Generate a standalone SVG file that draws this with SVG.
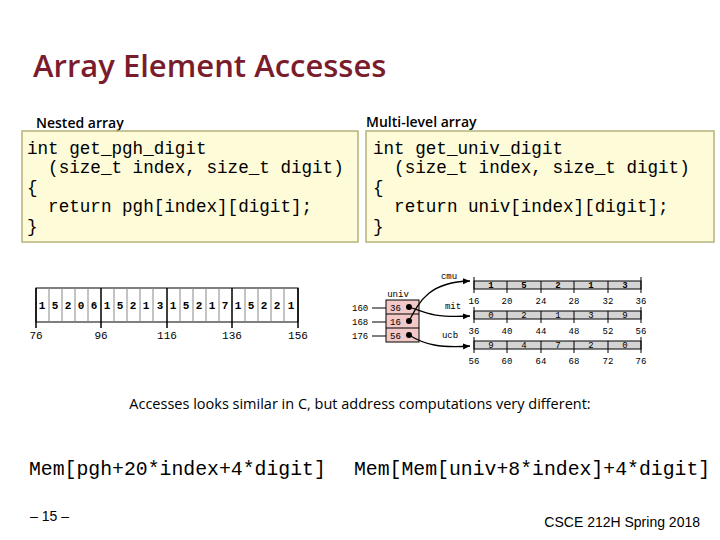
<svg xmlns="http://www.w3.org/2000/svg" width="720" height="540" viewBox="0 0 720 540">
<style>
.t{font-family:"Open Sans","Liberation Sans",sans-serif;fill:#000}
.m{font-family:"Liberation Mono",monospace;fill:#000}
.box{fill:#fdfbd8;stroke:#b5b37a;stroke-width:1.5}
.g{fill:#d4d4d4;stroke:#000;stroke-width:1}
.s{font-family:"Liberation Mono",monospace;font-size:9px;fill:#000;text-anchor:middle}
.b{font-family:"Liberation Mono",monospace;font-size:9px;font-weight:bold;fill:#000;text-anchor:middle}
</style>
<defs><marker id="a" markerWidth="8" markerHeight="8" refX="7" refY="4" orient="auto" markerUnits="userSpaceOnUse"><path d="M0,1 L7,4 L0,7z" fill="#000"/></marker></defs>
<rect width="720" height="540" fill="#fff"/>
<text x="33" y="77" class="t" font-size="31" font-weight="600" style="fill:#7a1c2c">Array Element Accesses</text>
<text x="36" y="128" class="t" font-size="14" font-weight="600">Nested array</text>
<text x="366" y="127" class="t" font-size="14" font-weight="600">Multi-level array</text>
<g id="code1"><rect x="22" y="131" width="336" height="111" class="box"/>
<text class="m" font-size="17.6" xml:space="preserve"><tspan x="27" y="154">int get_pgh_digit</tspan><tspan x="27" y="173">  (size_t index, size_t digit)</tspan><tspan x="27" y="193">{</tspan><tspan x="27" y="212">  return pgh[index][digit];</tspan><tspan x="27" y="232">}</tspan></text></g>
<g id="code2"><rect x="366" y="131" width="348" height="111" class="box"/>
<text class="m" font-size="17.6" xml:space="preserve"><tspan x="373" y="154">int get_univ_digit</tspan><tspan x="373" y="173">  (size_t index, size_t digit)</tspan><tspan x="373" y="193">{</tspan><tspan x="373" y="212">  return univ[index][digit];</tspan><tspan x="373" y="232">}</tspan></text></g>
<g id="pgh">
<rect x="36" y="288" width="262" height="34" fill="#fff" stroke="#000"/>
<g stroke="#888"><path d="M49,288v34M62,288v34M75,288v34M88,288v34M114,288v34M127,288v34M140,288v34M153,288v34M180,288v34M193,288v34M206,288v34M219,288v34M245,288v34M258,288v34M271,288v34M284,288v34"/></g>
<g stroke="#000" stroke-width="1.5"><path d="M36,288v40M101,288v40M167,288v40M232,288v40M298,288v40"/></g>
<g class="s" style="font-size:11px;font-weight:bold">
<text x="42" y="309">1</text><text x="55" y="309">5</text><text x="68" y="309">2</text><text x="81" y="309">0</text><text x="94" y="309">6</text>
<text x="107" y="309">1</text><text x="120" y="309">5</text><text x="133" y="309">2</text><text x="146" y="309">1</text><text x="160" y="309">3</text>
<text x="173" y="309">1</text><text x="186" y="309">5</text><text x="199" y="309">2</text><text x="212" y="309">1</text><text x="225" y="309">7</text>
<text x="238" y="309">1</text><text x="251" y="309">5</text><text x="264" y="309">2</text><text x="277" y="309">2</text><text x="291" y="309">1</text>
</g>
<g class="s" style="font-size:11px"><text x="36" y="339">76</text><text x="101" y="339">96</text><text x="167" y="339">116</text><text x="232" y="339">136</text><text x="298" y="339">156</text></g>
</g>
<g id="univ">
<text x="398" y="297" class="s">univ</text>
<rect x="386" y="300" width="33" height="42" fill="#f2c8c8" stroke="#000"/>
<path d="M386,314h33M386,328h33" stroke="#000"/>
<text x="390" y="311" class="m" font-size="9">36</text><text x="390" y="325" class="m" font-size="9">16</text><text x="390" y="339" class="m" font-size="9">56</text>
<circle cx="409" cy="307" r="3" fill="#000"/><circle cx="409" cy="321" r="3" fill="#000"/><circle cx="409" cy="335" r="3" fill="#000"/>
<text x="352" y="311" class="m" font-size="9">160</text><text x="352" y="325" class="m" font-size="9">168</text><text x="352" y="339" class="m" font-size="9">176</text>
<path d="M372,308h14M372,322h14M372,336h14" stroke="#000"/>
</g>
<g id="cmu"><text x="449" y="279" class="s">cmu</text>
<rect x="474" y="281" width="167" height="8" class="g"/>
<path d="M507,281v8M541,281v8M574,281v8M608,281v8" stroke="#000"/>
<path d="M474,277v16M507,289v4M541,289v4M574,289v4M608,289v4M641,277v16" stroke="#000"/>
<text x="491" y="288" class="b">1</text><text x="524" y="288" class="b">5</text><text x="558" y="288" class="b">2</text><text x="591" y="288" class="b">1</text><text x="625" y="288" class="b">3</text>
<text x="474" y="304" class="s">16</text><text x="507" y="304" class="s">20</text><text x="541" y="304" class="s">24</text><text x="574" y="304" class="s">28</text><text x="608" y="304" class="s">32</text><text x="641" y="304" class="s">36</text></g>
<g id="mit"><text x="453" y="309" class="s">mit</text>
<rect x="474" y="311" width="167" height="8" class="g"/>
<path d="M507,311v8M541,311v8M574,311v8M608,311v8" stroke="#000"/>
<path d="M474,307v16M507,319v4M541,319v4M574,319v4M608,319v4M641,307v16" stroke="#000"/>
<text x="491" y="318" class="s">0</text><text x="524" y="318" class="s">2</text><text x="558" y="318" class="s">1</text><text x="591" y="318" class="s">3</text><text x="625" y="318" class="s">9</text>
<text x="474" y="334" class="s">36</text><text x="507" y="334" class="s">40</text><text x="541" y="334" class="s">44</text><text x="574" y="334" class="s">48</text><text x="608" y="334" class="s">52</text><text x="641" y="334" class="s">56</text></g>
<g id="ucb"><text x="450" y="338" class="s">ucb</text>
<rect x="474" y="341" width="167" height="8" class="g"/>
<path d="M507,341v8M541,341v8M574,341v8M608,341v8" stroke="#000"/>
<path d="M474,337v16M507,349v4M541,349v4M574,349v4M608,349v4M641,337v16" stroke="#000"/>
<text x="491" y="348" class="s">9</text><text x="524" y="348" class="s">4</text><text x="558" y="348" class="s">7</text><text x="591" y="348" class="s">2</text><text x="625" y="348" class="s">0</text>
<text x="474" y="364" class="s">56</text><text x="507" y="364" class="s">60</text><text x="541" y="364" class="s">64</text><text x="574" y="364" class="s">68</text><text x="608" y="364" class="s">72</text><text x="641" y="364" class="s">76</text></g>
<g id="connectors" fill="none" stroke="#000" stroke-width="1.3">
<path d="M409,307 C425,312 430,318 470,316" marker-end="url(#a)"/>
<path d="M409,321 C420,300 430,282 470,281" marker-end="url(#a)"/>
<path d="M409,335 C425,345 440,348 470,346" marker-end="url(#a)"/>
</g>
<text x="360" y="409" class="t" font-size="14.5" text-anchor="middle">Accesses looks similar in C, but address computations very different:</text>
<text x="29" y="475" class="m" font-size="19.8">Mem[pgh+20*index+4*digit]</text>
<text x="354" y="475" class="m" font-size="19.8">Mem[Mem[univ+8*index]+4*digit]</text>
<text x="30" y="521" font-size="14" style="font-family:'Liberation Sans',sans-serif">– 15 –</text>
<text x="700" y="527" font-size="14" text-anchor="end" style="font-family:'Liberation Sans',sans-serif">CSCE 212H Spring 2018</text>
</svg>
